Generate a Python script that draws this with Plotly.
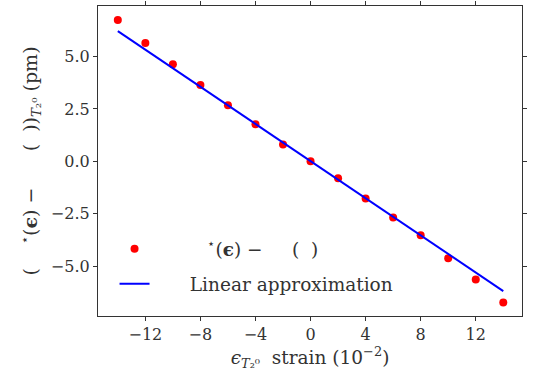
import plotly.graph_objects as go

strain = [-14, -12, -10, -8, -6, -4, -2, 0, 2, 4, 6, 8, 10, 12, 14]
delta = [6.74, 5.64, 4.63, 3.64, 2.67, 1.77, 0.80, 0.0, -0.81, -1.77, -2.68, -3.53, -4.62, -5.64, -6.74]
fit_x = [-14, 14]
fit_y = [6.21, -6.19]

FONT = "DejaVu Serif"
NB = "&nbsp;"

fig = go.Figure()
fig.add_trace(go.Scatter(
    x=strain, y=delta, mode="markers",
    marker=dict(color="#ff0000", size=8),
    legendgroup="a",
    name=NB * 9 + "<sup>⋆</sup>(<b>ϵ</b>) −" + NB * 5 + "(" + NB * 2 + ")"))
fig.add_trace(go.Scatter(
    x=fit_x, y=fit_y, mode="lines",
    line=dict(color="#0000ff", width=2),
    legendgroup="b",
    name=NB * 6 + "Linear approximation"))

axis_common = dict(
    showline=True, linecolor="#333333", linewidth=1.2, mirror="allticks",
    ticks="outside", ticklen=4, tickcolor="#333333", showgrid=False, zeroline=False,
    tickfont=dict(family=FONT, size=16, color="#333333"),
)
fig.update_xaxes(range=[-15.44, 15.36], tickmode="linear", tick0=0, dtick=4,
                 title=dict(text="<i>ϵ</i><sub><i>T</i>₂⁰</sub>" + NB * 2 + "strain (10<sup>−2</sup>)",
                            font=dict(family=FONT, size=18.5, color="#333333"), standoff=6),
                 **axis_common)
fig.update_yaxes(range=[-7.38, 7.41], tickmode="array",
                 tickvals=[-5, -2.5, 0, 2.5, 5],
                 ticktext=["−5.0", "−2.5", "0.0", "2.5", "5.0"],
                 title=dict(text="(" + NB * 4 + "<sup>⋆</sup>(<b>ϵ</b>) −" + NB * 6 + "(" + NB * 2
                            + "))<sub><i>T</i>₂⁰</sub> (pm)",
                            font=dict(family=FONT, size=19, color="#333333"), standoff=8),
                 **axis_common)
fig.update_layout(
    width=536, height=381,
    margin=dict(l=98, r=14, t=1, b=65),
    paper_bgcolor="white", plot_bgcolor="white",
    showlegend=True,
    legend=dict(x=0.039, y=0.041, xanchor="left", yanchor="bottom",
                bgcolor="rgba(255,255,255,0)", borderwidth=0,
                font=dict(family=FONT, size=18.5, color="#333333"),
                tracegroupgap=8),
)
fig.write_html("out.html")
